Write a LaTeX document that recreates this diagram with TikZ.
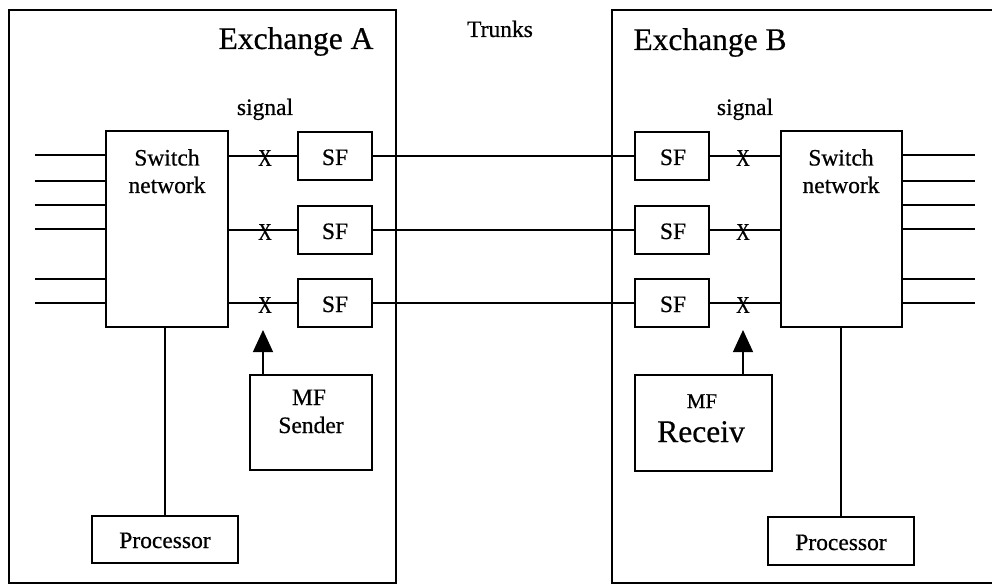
\documentclass[tikz,border=0pt]{standalone}
\usepackage{fontspec}
\usepackage{graphicx}
\setmainfont{Liberation Serif}[FakeBold=0.6]
\usetikzlibrary{arrows.meta}
\newcommand{\fs}[1]{\fontsize{#1}{#1}\selectfont}
\newcommand{\crossmark}{\scalebox{0.78}[1]{X}}
\begin{document}
\begin{tikzpicture}[x=1pt, y=-1pt,
  blk/.style={draw, line width=1.3pt, inner sep=0pt, outer sep=0pt},
  nw/.style={blk, anchor=north west},
  sfbox/.style={blk, minimum width=74pt, minimum height=48pt},
  txt/.style={inner sep=0pt, anchor=base, font=\fs{23.5}},
  big/.style={inner sep=0pt, anchor=base, font=\fs{31.5}},
  xmark/.style={inner sep=0pt, font=\fs{24}},
  wire/.style={line width=1.3pt},
  arr/.style={line width=1.3pt, -{Triangle[width=20pt,length=22pt]}}]

\useasboundingbox (0,0) rectangle (992,585);
\clip (0,0) rectangle (992,585);

% exchange frames
\node[nw, minimum width=387pt, minimum height=573pt] (exA) at (9,10) {};
\node[nw, minimum width=400pt, minimum height=573pt] (exB) at (612,10) {};
\node[big] (exAt) at (296,49) {Exchange A};
\node[big] (exBt) at (710,50) {Exchange B};
\node[txt] (trunks) at (500,37) {Trunks};

% switch networks
\node[nw, minimum width=122pt, minimum height=196pt] (swA) at (106,131) {};
\node[nw, minimum width=121pt, minimum height=196pt] (swB) at (781,131) {};
\node[txt] (swAt1) at (167,165.5) {Switch};
\node[txt] (swAt2) at (167,193) {network};
\node[txt] (swBt1) at (841,165.5) {Switch};
\node[txt] (swBt2) at (841,193) {network};

% signal frequency units
\foreach \i/\y in {1/156, 2/230, 3/303} {
  \node[sfbox] (sfA\i) at (335,\y) {};
  \node[sfbox] (sfB\i) at (672,\y) {};
  \node[txt] (sfAt\i) at (335,\y+9) {SF};
  \node[txt] (sfBt\i) at (673,\y+9) {SF};
  % switch -- SF -- trunk -- SF -- switch
  \draw[wire] (swA.east |- sfA\i.west) -- (sfA\i.west);
  \draw[wire] (sfA\i.east) -- (sfB\i.west);
  \draw[wire] (sfB\i.east) -- (swB.west |- sfB\i.east);
  \node[xmark] (xA\i) at (265,\y+2) {\crossmark};
  \node[xmark] (xB\i) at (743,\y+2) {\crossmark};
}
\node[txt] (sigA) at (265,115) {signal};
\node[txt] (sigB) at (745,115) {signal};

% subscriber lines
\foreach \j/\y in {1/155, 2/181, 3/205, 4/229, 5/279, 6/303} {
  \coordinate (inA\j) at (35,\y);
  \coordinate (outB\j) at (975,\y);
  \draw[wire] (inA\j) -- (inA\j -| swA.west);
  \draw[wire] (outB\j -| swB.east) -- (outB\j);
}

% MF sender / receiver
\node[nw, minimum width=122pt, minimum height=95pt] (mfA) at (250,375) {};
\node[nw, minimum width=137pt, minimum height=96pt] (mfB) at (635,375) {};
\node[txt] (mfAt1) at (309,405) {MF};
\node[txt] (mfAt2) at (311,433) {Sender};
\node[inner sep=0pt, anchor=base, font=\fs{21}] (mfBt1) at (702,408) {MF};
\node[big] (mfBt2) at (701,442) {Receiv};
\coordinate (tipA) at (263,330);
\coordinate (tipB) at (743,330);
\draw[arr] (tipA |- mfA.north) -- (tipA);
\draw[arr] (tipB |- mfB.north) -- (tipB);

% processors
\node[nw, minimum width=146pt, minimum height=47pt] (procA) at (92,516) {};
\node[nw, minimum width=146pt, minimum height=48pt] (procB) at (768,517) {};
\node[txt] (procAt) at (165,548) {Processor};
\node[txt] (procBt) at (841,550) {Processor};
\draw[wire] (procA.north |- swA.south) -- (procA.north);
\draw[wire] (procB.north |- swB.south) -- (procB.north);
\end{tikzpicture}
\end{document}
